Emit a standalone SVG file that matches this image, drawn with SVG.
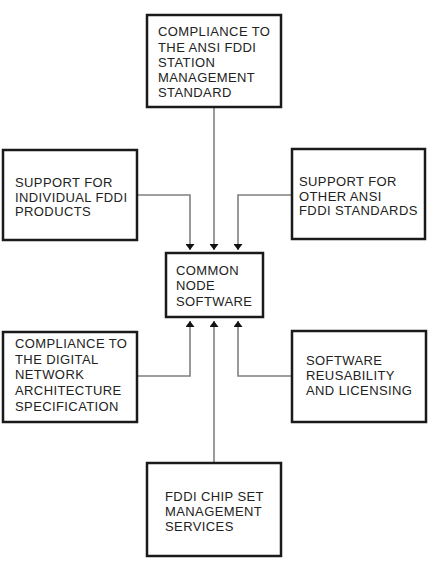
<svg xmlns="http://www.w3.org/2000/svg" width="429" height="565" viewBox="0 0 429 565">
<style>
.box{fill:#fff;stroke:#1a1a1a;stroke-width:2.5}
.t{font-family:"Liberation Sans",Arial,sans-serif;font-size:13px;letter-spacing:0.4px;fill:#222}
.c{fill:none;stroke:#808080;stroke-width:1.6}
</style>
<defs>
<marker id="ah" viewBox="0 0 6 9" refX="6" refY="4.5" markerWidth="6" markerHeight="9" markerUnits="userSpaceOnUse" orient="auto">
<path d="M0,0 L6,4.5 L0,9 Z" fill="#111"/>
</marker>
</defs>
<rect width="429" height="565" fill="#fff"/>
<g id="connectors">
<path class="c" d="M214,107 V250" marker-end="url(#ah)"/>
<path class="c" d="M137,195 H190 V250" marker-end="url(#ah)"/>
<path class="c" d="M292,195 H238 V250" marker-end="url(#ah)"/>
<path class="c" d="M137,376 H190 V321" marker-end="url(#ah)"/>
<path class="c" d="M292,376 H238 V321" marker-end="url(#ah)"/>
<path class="c" d="M214,463 V321" marker-end="url(#ah)"/>
</g>
<g id="top">
<rect class="box" x="147" y="15" width="134" height="92"/>
<text class="t" x="158" y="36">COMPLIANCE TO</text>
<text class="t" x="158" y="51.5">THE ANSI FDDI</text>
<text class="t" x="158" y="66.5">STATION</text>
<text class="t" x="158" y="82">MANAGEMENT</text>
<text class="t" x="158" y="97">STANDARD</text>
</g>
<g id="left-upper">
<rect class="box" x="3" y="150" width="134" height="90"/>
<text class="t" x="15" y="186.5">SUPPORT FOR</text>
<text class="t" x="15" y="201.5">INDIVIDUAL FDDI</text>
<text class="t" x="15" y="216">PRODUCTS</text>
</g>
<g id="right-upper">
<rect class="box" x="292" y="149" width="133" height="90"/>
<text class="t" x="299" y="185.5">SUPPORT FOR</text>
<text class="t" x="299" y="200.5">OTHER ANSI</text>
<text class="t" x="299" y="215">FDDI STANDARDS</text>
</g>
<g id="center">
<rect class="box" x="166" y="253" width="97" height="64"/>
<text class="t" x="176" y="275">COMMON</text>
<text class="t" x="176" y="290">NODE</text>
<text class="t" x="176" y="305.5">SOFTWARE</text>
</g>
<g id="left-lower">
<rect class="box" x="3" y="332" width="134" height="90"/>
<text class="t" x="15" y="348">COMPLIANCE TO</text>
<text class="t" x="15" y="363.5">THE DIGITAL</text>
<text class="t" x="15" y="379">NETWORK</text>
<text class="t" x="15" y="395">ARCHITECTURE</text>
<text class="t" x="15" y="410.5">SPECIFICATION</text>
</g>
<g id="right-lower">
<rect class="box" x="292" y="331" width="134" height="91"/>
<text class="t" x="306" y="365">SOFTWARE</text>
<text class="t" x="306" y="380">REUSABILITY</text>
<text class="t" x="306" y="395">AND LICENSING</text>
</g>
<g id="bottom">
<rect class="box" x="147" y="463" width="134" height="93"/>
<text class="t" x="165" y="501">FDDI CHIP SET</text>
<text class="t" x="165" y="516">MANAGEMENT</text>
<text class="t" x="165" y="531">SERVICES</text>
</g>
</svg>
